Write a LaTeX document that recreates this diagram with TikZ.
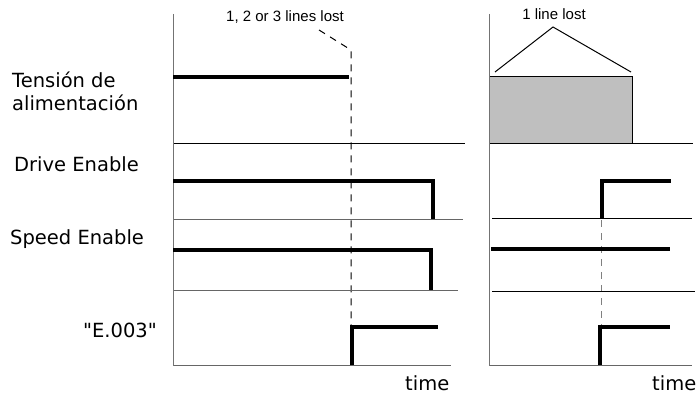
\documentclass[tikz,border=0pt]{standalone}
\usepackage{fontspec}
\setmainfont{DejaVu Sans}[Ligatures=TeXOff]
\newfontfamily\arialfont{Liberation Sans}
\usepackage{tikz}

\begin{document}
\begin{tikzpicture}[
  x=1pt, y=-1pt,
  lbl/.style={font=\fontsize{19.5}{23}\selectfont, inner sep=0pt},
  note/.style={font=\arialfont\fontsize{15}{18}\selectfont, inner sep=0pt},
  sig/.style={line width=3.2pt},
  rule/.style={line width=1pt},
  faint/.style={rule, black!60},
  axis/.style={line width=1pt, black!55},
  cut/.style={line width=1pt, dash pattern=on 7pt off 6pt}
]
\useasboundingbox (0,0) rectangle (700,396);

% left panel: 1, 2 or 3 lines lost
\draw[cut] (319,30) -- (351,50) -- (351,365);
\draw[rule] (173,143) -- (465,143);
\draw[faint] (173,219) -- (463,219);
\draw[faint] (173,290) -- (458,290);
\draw[faint] (173,365) -- (451,365);
\draw[axis] (173,14) -- (173,366);

\draw[sig] (173,77) -- (349,77);
\draw[sig] (173,181) -- (433,181) -- (433,219);
\draw[sig] (173,250) -- (431,250) -- (431,290);
\draw[sig] (352,365) -- (352,327) -- (438,327);

% right panel: 1 line lost
\draw[fill=black!25, rule] (489,76) rectangle (632,143);
\draw[cut, black!50] (601,181) -- (601,365);
\draw[rule] (489,143) -- (693,143);
\draw[rule] (492,218) -- (692,218);
\draw[rule] (492,291) -- (695,291);
\draw[faint] (489,365) -- (692,365);
\draw[axis] (489,14) -- (489,366);
\draw[rule] (495,72) -- (553,27) -- (631,72);

\draw[sig] (602,218) -- (602,181) -- (671,181);
\draw[sig] (491,249) -- (670,249);
\draw[sig] (600,365) -- (600,327) -- (670,327);

% labels
\node[lbl, anchor=base west] (supplyA) at (12,87) {Tensión de};
\node[lbl, anchor=base west] (supplyB) at (12,110) {alimentación};
\node[lbl, anchor=base west] (drive) at (14,171) {Drive Enable};
\node[lbl, anchor=base west] (speed) at (10,244) {Speed Enable};
\node[lbl, anchor=base east] (err) at (157,337) {"E.003"};
\node[lbl, anchor=base west] (timeL) at (405,390) {time};
\node[lbl, anchor=base west] (timeR) at (652,390) {time};
\node[note, anchor=base] (lostA) at (285,22) {1, 2 or 3 lines lost};
\node[note, anchor=base] (lostB) at (554,20) {1 line lost};
\end{tikzpicture}
\end{document}
